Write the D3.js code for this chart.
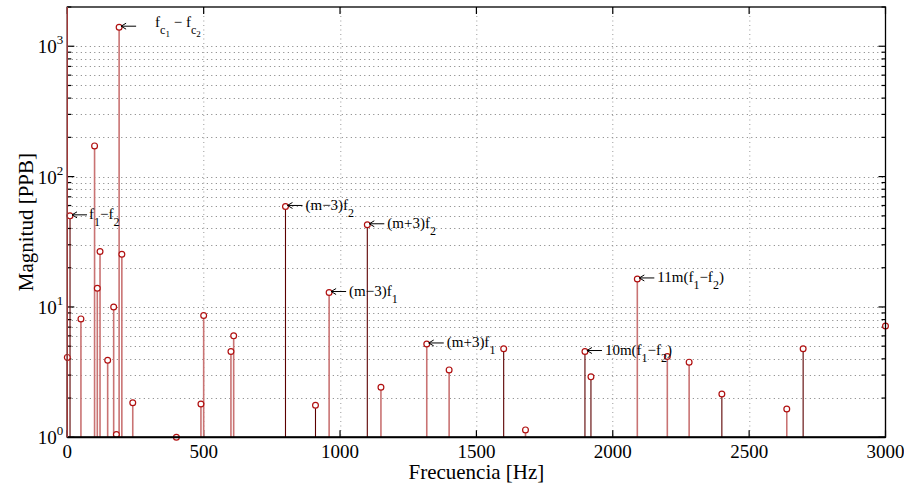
<!DOCTYPE html>
<html>
<head>
<meta charset="utf-8">
<script src="https://cdn.jsdelivr.net/npm/d3@7"></script>
<style>
  body { margin: 0; background: #fff; }
  text { font-family: "Liberation Serif", "Times New Roman", serif; fill: #000; }
</style>
</head>
<body>
<div id="spectrum"></div>
<script>
// frequency of each spectral line (Hz)
var freqs = [0, 10, 50, 100, 110, 120, 148, 170, 180, 190, 200, 240, 400, 490, 500, 600, 610,
  800, 910, 960, 1100, 1150, 1318, 1400, 1600, 1680, 1898, 1920, 2090, 2200, 2280, 2400, 2638, 2698, 3000];
// magnitude of each line (PPB)
var mags = [4.1, 50, 8.1, 172, 13.9, 26.6, 3.9, 10, 1.05, 1400, 25.4, 1.84, 1.0, 1.8, 8.6, 4.55, 6.0,
  59, 1.76, 12.9, 42.7, 2.42, 5.2, 3.29, 4.78, 1.14, 4.55, 2.91, 16.4, 4.17, 3.77, 2.15, 1.65, 4.78, 7.14];
// which stem series each line belongs to: "d" dark, "l" light
var stemType = ["d", "d", "l", "l", "l", "l", "l", "l", "l", "l", "l", "l", "l", "l", "l", "l", "l",
  "d", "d", "l", "d", "l", "l", "l", "d", "l", "d", "d", "l", "l", "l", "d", "l", "d", "d"];

// tick labels
var xTicks = [0, 500, 1000, 1500, 2000, 2500, 3000];
var yDecades = [0, 1, 2, 3];

// annotations: index of the line they point at, gap before text, and text pieces [text, level]
var labelIdx = [9, 1, 17, 20, 19, 22, 26, 28];
var labelGap = [36, 19, 20, 20, 20, 20, 20, 20];
var labelParts = [
  [["f", 0], ["c", 1], ["1", 2], [" \u2212 f", 0], ["c", 1], ["2", 2]],
  [["f", 0], ["1", 1], ["\u2212f", 0], ["2", 1]],
  [["(m\u22123)f", 0], ["2", 1]],
  [["(m+3)f", 0], ["2", 1]],
  [["(m\u22123)f", 0], ["1", 1]],
  [["(m+3)f", 0], ["1", 1]],
  [["10m(f", 0], ["1", 1], ["\u2212f", 0], ["2", 1], [")", 0]],
  [["11m(f", 0], ["1", 1], ["\u2212f", 0], ["2", 1], [")", 0]]
];

var width = 904;
var height = 487;
var margin = { top: 7, right: 18.5, bottom: 49.7, left: 67.3 };
var chartWidth = width - margin.left - margin.right;
var chartHeight = height - margin.top - margin.bottom;

var svg = d3.select("#spectrum")
  .append("svg")
  .attr("width", width)
  .attr("height", height);

var g = svg.append("g")
  .attr("transform", `translate(${margin.left}, ${margin.top})`);

var xScale = d3.scaleLinear().domain([0, 3000]).range([0, chartWidth]);
var yScale = d3.scaleLog().domain([1, 2000]).range([chartHeight, 0]);

// every log tick 1..9 x 10^k inside the domain
var logTicks = [];
yDecades.forEach(k => {
  for (var m = 1; m <= 9; m++) {
    var v = m * Math.pow(10, k);
    if (v <= 2000) logTicks.push(v);
  }
});

// dotted grid
var grid = g.append("g").attr("class", "grid");
grid.selectAll(".hgrid")
  .data(logTicks.filter(v => v > 1 && v < 2000))
  .enter()
  .append("line")
  .attr("x1", 0)
  .attr("x2", chartWidth)
  .attr("y1", d => Math.round(yScale(d)) + 0.5)
  .attr("y2", d => Math.round(yScale(d)) + 0.5)
  .attr("stroke", "#7a7a7a")
  .attr("stroke-width", 1)
  .attr("stroke-dasharray", "1,3.5");
grid.selectAll(".vgrid")
  .data(xTicks.slice(1, -1))
  .enter()
  .append("line")
  .attr("x1", d => Math.round(xScale(d)) + 0.5)
  .attr("x2", d => Math.round(xScale(d)) + 0.5)
  .attr("y1", 0)
  .attr("y2", chartHeight)
  .attr("stroke", "#999")
  .attr("stroke-width", 1)
  .attr("stroke-dasharray", "1,3.5");

// inside ticks on all four sides
var ticks = g.append("g").attr("class", "ticks").attr("stroke", "#000").attr("stroke-width", 1.2);
xTicks.forEach(t => {
  var x = xScale(t);
  ticks.append("line").attr("x1", x).attr("x2", x).attr("y1", chartHeight).attr("y2", chartHeight - 7);
  ticks.append("line").attr("x1", x).attr("x2", x).attr("y1", 0).attr("y2", 7);
});
logTicks.forEach(v => {
  var y = yScale(v);
  var len = yDecades.some(k => Math.abs(Math.pow(10, k) - v) < 1e-9) ? 7 : 4;
  ticks.append("line").attr("x1", 0).attr("x2", len).attr("y1", y).attr("y2", y);
  ticks.append("line").attr("x1", chartWidth).attr("x2", chartWidth - len).attr("y1", y).attr("y2", y);
});

// stems
var data = freqs.map((f, i) => ({ f: f, m: mags[i], type: stemType[i] }));
var stems = g.append("g").attr("class", "stems");
stems.selectAll(".stem")
  .data(data)
  .enter()
  .append("line")
  .attr("class", "stem")
  .attr("x1", d => xScale(d.f))
  .attr("x2", d => xScale(d.f))
  .attr("y1", chartHeight)
  .attr("y2", d => yScale(d.m))
  .attr("stroke", d => d.type === "d" ? "#5c0000" : "#c97373")
  .attr("stroke-width", d => d.type === "d" ? 1.1 : 1.6);

// box
g.append("rect")
  .attr("x", 0)
  .attr("y", 0)
  .attr("width", chartWidth)
  .attr("height", chartHeight)
  .attr("fill", "none")
  .attr("stroke", "#000")
  .attr("stroke-width", 1.3);
g.append("line")
  .attr("x1", 0).attr("x2", chartWidth)
  .attr("y1", chartHeight).attr("y2", chartHeight)
  .attr("stroke", "#000").attr("stroke-width", 2);
g.append("line")
  .attr("x1", 0).attr("x2", 0)
  .attr("y1", 0).attr("y2", chartHeight)
  .attr("stroke", "#a83a3a").attr("stroke-width", 1.3);

// markers
stems.selectAll(".marker")
  .data(data)
  .enter()
  .append("circle")
  .attr("class", "marker")
  .attr("cx", d => xScale(d.f))
  .attr("cy", d => yScale(d.m))
  .attr("r", 2.9)
  .attr("fill", "#fff")
  .attr("stroke", "#b01010")
  .attr("stroke-width", 1.2);

// tick labels
var xLabels = g.append("g").attr("class", "x labels");
xLabels.selectAll("text")
  .data(xTicks)
  .enter()
  .append("text")
  .attr("x", d => xScale(d))
  .attr("y", chartHeight + 21)
  .attr("text-anchor", "middle")
  .attr("font-size", 19)
  .text(d => d);

var yLabels = g.append("g").attr("class", "y labels");
yDecades.forEach(k => {
  var t = yLabels.append("text")
    .attr("x", -4)
    .attr("y", yScale(Math.pow(10, k)) + 7)
    .attr("text-anchor", "end")
    .attr("font-size", 19);
  t.append("tspan").text("10");
  t.append("tspan").attr("dy", -9).attr("font-size", 13).text(k);
});

// axis titles
svg.append("text")
  .attr("x", margin.left + chartWidth / 2)
  .attr("y", height - 8)
  .attr("text-anchor", "middle")
  .attr("font-size", 21)
  .text("Frecuencia [Hz]");
svg.append("text")
  .attr("transform", `translate(33, ${margin.top + chartHeight / 2}) rotate(-90)`)
  .attr("text-anchor", "middle")
  .attr("font-size", 21)
  .text("Magnitud [PPB]");

// annotations with left arrows
var offsets = [0, 7, 10];
var sizes = [15, 12, 9];
var notes = g.append("g").attr("class", "notes");
labelIdx.forEach((idx, n) => {
  var px = xScale(freqs[idx]);
  var py = yScale(mags[idx]);
  var ay = py - 1;
  notes.append("line")
    .attr("x1", px + 2).attr("x2", px + 17)
    .attr("y1", ay).attr("y2", ay)
    .attr("stroke", "#000").attr("stroke-width", 1);
  notes.append("path")
    .attr("d", `M${px + 7},${ay - 3} L${px + 2},${ay} L${px + 7},${ay + 3}`)
    .attr("fill", "none")
    .attr("stroke", "#000")
    .attr("stroke-width", 1);
  var t = notes.append("text")
    .attr("x", px + labelGap[n])
    .attr("y", py + (n === 0 ? 0 : 3.5))
    .attr("font-size", 15);
  var level = 0;
  labelParts[n].forEach(p => {
    t.append("tspan")
      .attr("dy", offsets[p[1]] - offsets[level])
      .attr("font-size", sizes[p[1]])
      .style("white-space", "pre")
      .text(p[0]);
    level = p[1];
  });
});
</script>
</body>
</html>
